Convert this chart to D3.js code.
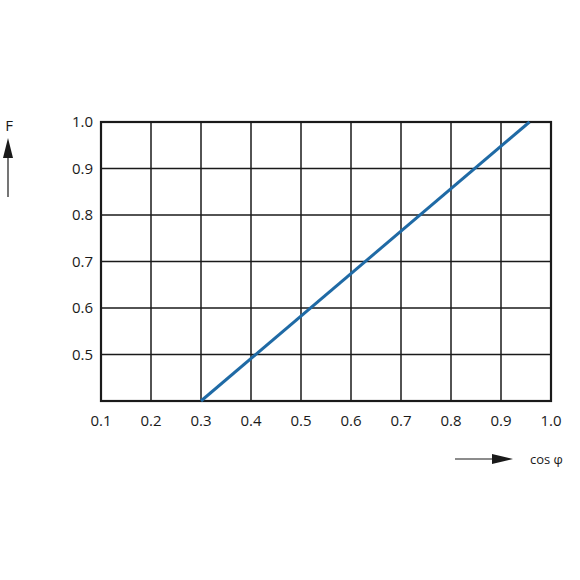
<!DOCTYPE html>
<html><head><meta charset="utf-8">
<script src="https://cdn.jsdelivr.net/npm/d3@7"></script>
<style>body{margin:0;background:#fff}text{font-family:"Open Sans",sans-serif;font-size:15px;fill:#1a1a1a}</style>
</head><body>
<svg width="580" height="580"></svg>
<script>
// characteristic: F vs cos phi
const xTicks = [0.1, 0.2, 0.3, 0.4, 0.5, 0.6, 0.7, 0.8, 0.9, 1.0];
const yTicks = [0.5, 0.6, 0.7, 0.8, 0.9, 1.0];
const cosPhi = [0.3, 0.957];
const factor = [0.4, 1.0];

const svg = d3.select("svg");
const x = d3.scaleLinear().domain([0.1, 1.0]).range([101, 551]);
const y = d3.scaleLinear().domain([0.4, 1.0]).range([401, 122]);

const g = svg.append("g");
g.selectAll(".vx").data(xTicks.slice(1, -1)).enter().append("line")
  .attr("x1", d => x(d)).attr("x2", d => x(d)).attr("y1", y(1)).attr("y2", y(0.4))
  .attr("stroke", "#1a1a1a").attr("stroke-width", 1.5);
g.selectAll(".hy").data(yTicks.slice(0, -1)).enter().append("line")
  .attr("x1", x(0.1)).attr("x2", x(1)).attr("y1", d => y(d)).attr("y2", d => y(d))
  .attr("stroke", "#1a1a1a").attr("stroke-width", 1.5);
g.append("rect").attr("x", x(0.1)).attr("y", y(1)).attr("width", x(1) - x(0.1)).attr("height", y(0.4) - y(1))
  .attr("fill", "none").attr("stroke", "#1a1a1a").attr("stroke-width", 2.2);

svg.selectAll(".xl").data(xTicks).enter().append("text")
  .attr("x", d => x(d)).attr("y", 426).attr("text-anchor", "middle").text(d => d.toFixed(1));
svg.selectAll(".yl").data(yTicks).enter().append("text")
  .attr("x", 93).attr("y", d => y(d) + 5).attr("text-anchor", "end").text(d => d.toFixed(1));

svg.append("path").datum(d3.zip(cosPhi, factor))
  .attr("d", d3.line().x(d => x(d[0])).y(d => y(d[1])))
  .attr("stroke", "#1f6aa5").attr("stroke-width", 3).attr("fill", "none");

// axis arrows
svg.append("text").attr("x", 9).attr("y", 131).attr("text-anchor", "middle").text("F");
svg.append("line").attr("x1", 8).attr("x2", 8).attr("y1", 197).attr("y2", 150).attr("stroke", "#1a1a1a").attr("stroke-width", 1.2);
svg.append("path").attr("d", "M8,138 L3,158 L13,158 Z").attr("fill", "#1a1a1a");
svg.append("line").attr("x1", 455).attr("x2", 500).attr("y1", 459).attr("y2", 459).attr("stroke", "#1a1a1a").attr("stroke-width", 1.2);
svg.append("path").attr("d", "M513,459 L492,454 L492,464 Z").attr("fill", "#1a1a1a");
svg.append("text").attr("x", 530).attr("y", 464).style("font-size", "13px").text("cos φ");
</script>
</body></html>
